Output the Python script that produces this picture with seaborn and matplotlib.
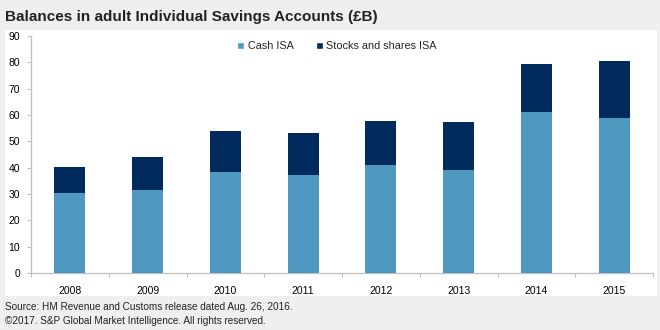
import matplotlib
matplotlib.use("Agg")
import matplotlib.pyplot as plt
from matplotlib.patches import Rectangle, Patch
from matplotlib.ticker import FixedLocator
import seaborn as sns
import pandas as pd

years = ["2008", "2009", "2010", "2011", "2012", "2013", "2014", "2015"]
cash_isa = [30.5, 31.5, 38.5, 37.2, 41.0, 39.0, 61.3, 59.0]
stocks_isa = [9.9, 12.7, 15.4, 15.8, 16.7, 18.3, 18.0, 21.5]
series_names = ["Cash ISA", "Stocks and shares ISA"]
title = "Balances in adult Individual Savings Accounts (£B)"
footer = ["Source: HM Revenue and Customs release dated Aug. 26, 2016.",
          "©2017. S&P Global Market Intelligence. All rights reserved."]

CASH_C = "#4f98c2"
STOCK_C = "#002b5c"

sns.set_theme(style="white")
plt.rcParams["font.family"] = ["Liberation Sans", "DejaVu Sans"]

df = pd.DataFrame({"year": years, "cash": cash_isa, "stocks": stocks_isa})
df["total"] = df["cash"] + df["stocks"]

fig = plt.figure(figsize=(6.6, 3.3), dpi=100)
fig.patch.set_facecolor("#efefef")
panel = Rectangle((5 / 660, 1 - 296 / 330), 652 / 660, 266 / 330,
                  transform=fig.transFigure, facecolor="white",
                  edgecolor="none", zorder=-10)
fig.patches.append(panel)

ax = fig.add_axes([31 / 660, 1 - 273 / 330, 622 / 660, 237 / 330])
ax.set_facecolor("none")
ax.set_zorder(5)

sns.barplot(data=df, x="year", y="total", color=STOCK_C, width=0.4,
            saturation=1, linewidth=0, ax=ax, zorder=2)
sns.barplot(data=df, x="year", y="cash", color=CASH_C, width=0.4,
            saturation=1, linewidth=0, ax=ax, zorder=3)

ax.set_xlim(-0.5, len(years) - 0.5)
ax.set_ylim(0, 90)
ax.set_yticks(range(0, 91, 10))
ax.set_xlabel("")
ax.set_ylabel("")

for s in ["top", "right"]:
    ax.spines[s].set_visible(False)
for s in ["left", "bottom"]:
    ax.spines[s].set_color("#bfbfbf")
    ax.spines[s].set_linewidth(0.9)

ax.tick_params(axis="y", left=True, length=3, width=0.8, color="#bfbfbf",
               labelsize=7.5, pad=5, labelcolor="black")
ax.tick_params(axis="x", bottom=False, labelsize=7.5, pad=3, labelcolor="black")
ax.xaxis.set_minor_locator(FixedLocator([i + 0.5 for i in range(-1, len(years))]))
ax.tick_params(axis="x", which="minor", bottom=True, length=3, width=0.8,
               color="#bfbfbf")

handles = [Patch(facecolor=CASH_C, label=series_names[0]),
           Patch(facecolor=STOCK_C, label=series_names[1])]
fig.legend(handles=handles, loc="center", bbox_to_anchor=(337 / 660, 1 - 46 / 330),
           ncol=2, frameon=False, fontsize=7.8, handlelength=0.65, handleheight=0.65,
           handletextpad=0.35, columnspacing=2.0)

fig.text(5 / 660, 1 - 17 / 330, title, fontsize=11, fontweight="bold",
         ha="left", va="center", color="#222222")
fig.text(5 / 660, 1 - 307 / 330, footer[0], fontsize=7.2, ha="left", va="center",
         color="#222222")
fig.text(5 / 660, 1 - 321 / 330, footer[1], fontsize=7.2, ha="left", va="center",
         color="#222222")

fig.savefig("out.png", dpi=100, facecolor=fig.get_facecolor())
